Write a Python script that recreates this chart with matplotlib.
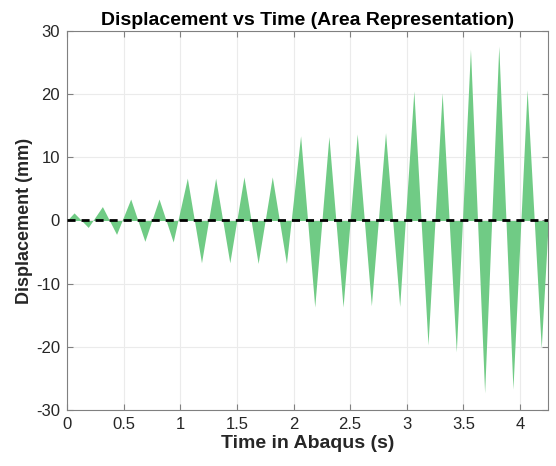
import numpy as np
import matplotlib
matplotlib.use("Agg")
import matplotlib.pyplot as plt

plt.rcParams['font.family'] = ['Liberation Sans', 'DejaVu Sans']
plt.rcParams['axes.unicode_minus'] = False

# Peak times (s) and peak displacements (mm) of the triangular response
peak_times = [0.0625 + 0.125 * k for k in range(34)]
peak_values = [1.2, -1.1, 2.2, -2.2, 3.4, -3.3, 3.4, -3.4,
               6.7, -6.7, 6.7, -6.7, 6.9, -6.8, 6.9, -6.8,
               13.4, -13.7, 13.3, -13.7, 13.7, -13.5, 13.9, -13.6,
               20.5, -19.7, 20.2, -20.8, 27.1, -27.3, 27.6, -26.7,
               20.7, -20.2]
start_time, end_time = 0.0, 4.25

time = [start_time] + peak_times + [end_time]
disp = [0.0] + peak_values + [0.0]

x_ticks = [0, 0.5, 1, 1.5, 2, 2.5, 3, 3.5, 4]
y_ticks = [-30, -20, -10, 0, 10, 20, 30]

fig = plt.figure(figsize=(5.56, 4.66), dpi=100)
ax = fig.add_axes([0.1205, 0.1202, 0.8657, 0.8133])

ax.fill_between(time, disp, 0, color='#70CB85', linewidth=0, zorder=2)
ax.axhline(0, color='black', linewidth=2, linestyle=(0, (2.9, 2.15)), zorder=3)

ax.set_xlim(0, 4.25)
ax.set_ylim(-30, 30)
ax.set_xticks(x_ticks)
ax.set_xticklabels([f"{t:g}" for t in x_ticks])
ax.set_yticks(y_ticks)
ax.grid(True, color='#EBEBEB', linewidth=0.8, zorder=0)
ax.set_axisbelow(True)

for s in ax.spines.values():
    s.set_color('#808080')
    s.set_linewidth(0.8)
ax.tick_params(direction='in', length=4, width=0.8, colors='#808080',
               labelcolor='#262626', labelsize=12, top=True, right=True,
               pad=5)

ax.set_title('Displacement vs Time (Area Representation)', fontsize=14,
             fontweight='bold', pad=4)
ax.set_xlabel('Time in Abaqus (s)', fontsize=14, fontweight='bold',
              color='#262626', labelpad=2)
ax.set_ylabel('Displacement (mm)', fontsize=13, fontweight='bold',
              color='#262626', labelpad=2)

fig.savefig('out.png', dpi=100)
